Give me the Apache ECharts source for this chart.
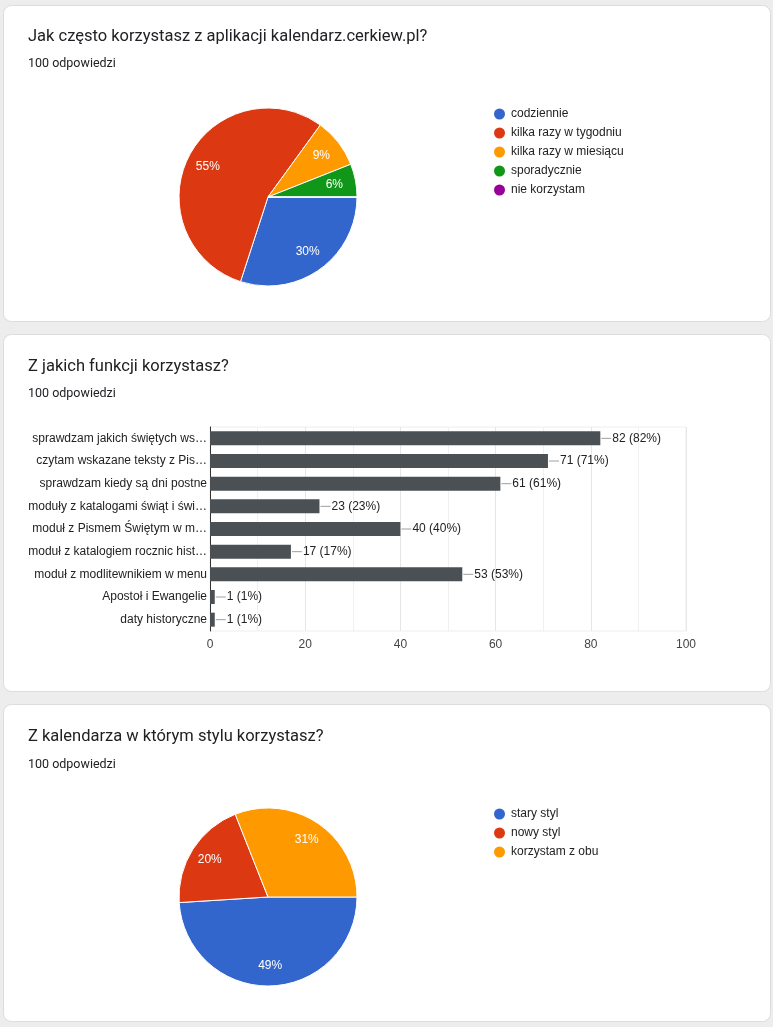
<!DOCTYPE html>
<html>
<head>
<meta charset="utf-8">
<script src="https://cdn.jsdelivr.net/npm/echarts@6/dist/echarts.min.js"></script>
<style>
html,body{margin:0;padding:0;background:#ededed;}
#c{width:773px;height:1027px;}
</style>
</head>
<body>
<div id="c"></div>
<script>
// ---- data ----
const q1Title = 'Jak często korzystasz z aplikacji kalendarz.cerkiew.pl?';
const q1Names = ['codziennie', 'kilka razy w tygodniu', 'kilka razy w miesiącu', 'sporadycznie', 'nie korzystam'];
const q1Values = [30, 55, 9, 6, 0];

const q2Title = 'Z jakich funkcji korzystasz?';
const q2Categories = [
  'sprawdzam jakich świętych ws…',
  'czytam wskazane teksty z Pis…',
  'sprawdzam kiedy są dni postne',
  'moduły z katalogami świąt i świ…',
  'moduł z Pismem Świętym w m…',
  'moduł z katalogiem rocznic hist…',
  'moduł z modlitewnikiem w menu',
  'Apostoł i Ewangelie',
  'daty historyczne'
];
const q2Values = [82, 71, 61, 23, 40, 17, 53, 1, 1];
const q2Total = 100;

const q3Title = 'Z kalendarza w którym stylu korzystasz?';
const q3Names = ['stary styl', 'nowy styl', 'korzystam z obu'];
const q3Values = [49, 20, 31];

const responsesText = '100 odpowiedzi';
const xTicks = [0, 20, 40, 60, 80, 100];

// ---- styling ----
const palette = ['#3366cc', '#dc3912', '#ff9900', '#109618', '#990099'];
const chartFont = '"Liberation Sans", Arial, sans-serif';
const titleFont = 'Roboto, "Noto Sans", sans-serif';

function pieData(names, values) {
  return names.map((n, i) => ({ name: n, value: values[i], itemStyle: { color: palette[i] } }));
}
function pctLabel(p) { return p.value > 0 ? Math.round(p.percent) + '%' : ''; }

function pieVisible(names, values, cy) {
  return {
    type: 'pie', center: [268, cy], radius: [0, 89], startAngle: 0, clockwise: true,
    data: pieData(names, values), label: { show: false }, labelLine: { show: false },
    itemStyle: { borderColor: '#ffffff', borderWidth: 1 },
    emphasis: { disabled: true }, animation: false, silent: true
  };
}
function pieLabels(names, values, cy, r0) {
  return {
    type: 'pie', center: [268, cy], radius: [r0, 89], startAngle: 0, clockwise: true,
    data: pieData(names, values).map(d => Object.assign(d, { itemStyle: { color: 'rgba(0,0,0,0)' } })),
    label: { show: true, position: 'inside', formatter: pctLabel, color: '#ffffff',
      fontSize: 12, fontFamily: chartFont },
    labelLine: { show: false }, emphasis: { disabled: true }, animation: false, silent: true
  };
}

function card(y, h) {
  return { type: 'rect', z: -10, shape: { x: 3.5, y: y + 0.5, width: 767, height: h, r: 8 },
    style: { fill: '#ffffff', stroke: '#dadce0', lineWidth: 1 } };
}
function txt(t, x, y, size, color) {
  return { type: 'text', z: 10, style: { text: t, x: x, y: y, fill: color,
    font: size + 'px ' + titleFont, verticalAlign: 'middle', textVerticalAlign: 'middle' } };
}

const legendCommon = {
  orient: 'vertical', left: 489, icon: 'circle', itemWidth: 11, itemHeight: 11, itemGap: 7,
  itemStyle: { borderWidth: 0 },
  textStyle: { fontSize: 12, color: '#222222', fontFamily: chartFont, padding: [0, 0, 0, 1] },
  selectedMode: false
};

const chart = echarts.init(document.getElementById('c'), null, { renderer: 'canvas' });
chart.setOption({
  backgroundColor: '#ededed',
  animation: false,
  graphic: [
    card(5, 316), card(334, 357), card(704, 317),
    txt(q1Title, 28, 37, 16.5, '#202124'), txt(responsesText, 28, 64, 12.5, '#202124'),
    txt(q2Title, 28, 367, 16.5, '#202124'), txt(responsesText, 28, 394, 12.5, '#202124'),
    txt(q3Title, 28, 737, 16.5, '#202124'), txt(responsesText, 28, 765, 12.5, '#202124')
  ],
  legend: [
    Object.assign({}, legendCommon, { top: 103, data: q1Names }),
    Object.assign({}, legendCommon, { top: 803, data: q3Names })
  ],
  grid: [{ left: 210, right: 87, top: 427, bottom: 396, show: true, borderColor: '#eeeeee', borderWidth: 1 }],
  xAxis: [{
    type: 'value', gridIndex: 0, min: xTicks[0], max: xTicks[xTicks.length - 1], interval: 20,
    axisLine: { show: false }, axisTick: { show: false },
    axisLabel: { fontSize: 12, color: '#444444', fontFamily: chartFont, margin: 8 },
    splitLine: { show: true, lineStyle: { color: '#e6e6e6' } },
    minorTick: { show: false, splitNumber: 2 },
    minorSplitLine: { show: true, lineStyle: { color: '#f0f0f0' } }
  }],
  yAxis: [{
    type: 'category', gridIndex: 0, data: q2Categories, inverse: true,
    axisLine: { show: true, lineStyle: { color: '#333333' } }, axisTick: { show: false },
    axisLabel: { fontSize: 12, color: '#222222', fontFamily: chartFont, margin: 3 },
    splitLine: { show: false }
  }],
  series: [
    pieVisible(q1Names, q1Values, 197),
    pieLabels(q1Names, q1Values, 197, 40),
    {
      type: 'bar', xAxisIndex: 0, yAxisIndex: 0, data: q2Values, barWidth: 14,
      itemStyle: { color: '#4b5054' }, silent: true,
      label: {
        show: true, position: 'right', distance: 1,
        formatter: p => '{l| }{v|' + p.value + ' (' + Math.round(p.value / q2Total * 100) + '%)}',
        rich: {
          l: { width: 10, height: 1, backgroundColor: '#9e9e9e' },
          v: { fontSize: 12, color: '#222222', fontFamily: chartFont, padding: [0, 0, 0, 1] }
        }
      }
    },
    pieVisible(q3Names, q3Values, 897),
    pieLabels(q3Names, q3Values, 897, 43)
  ]
});
</script>
</body>
</html>
